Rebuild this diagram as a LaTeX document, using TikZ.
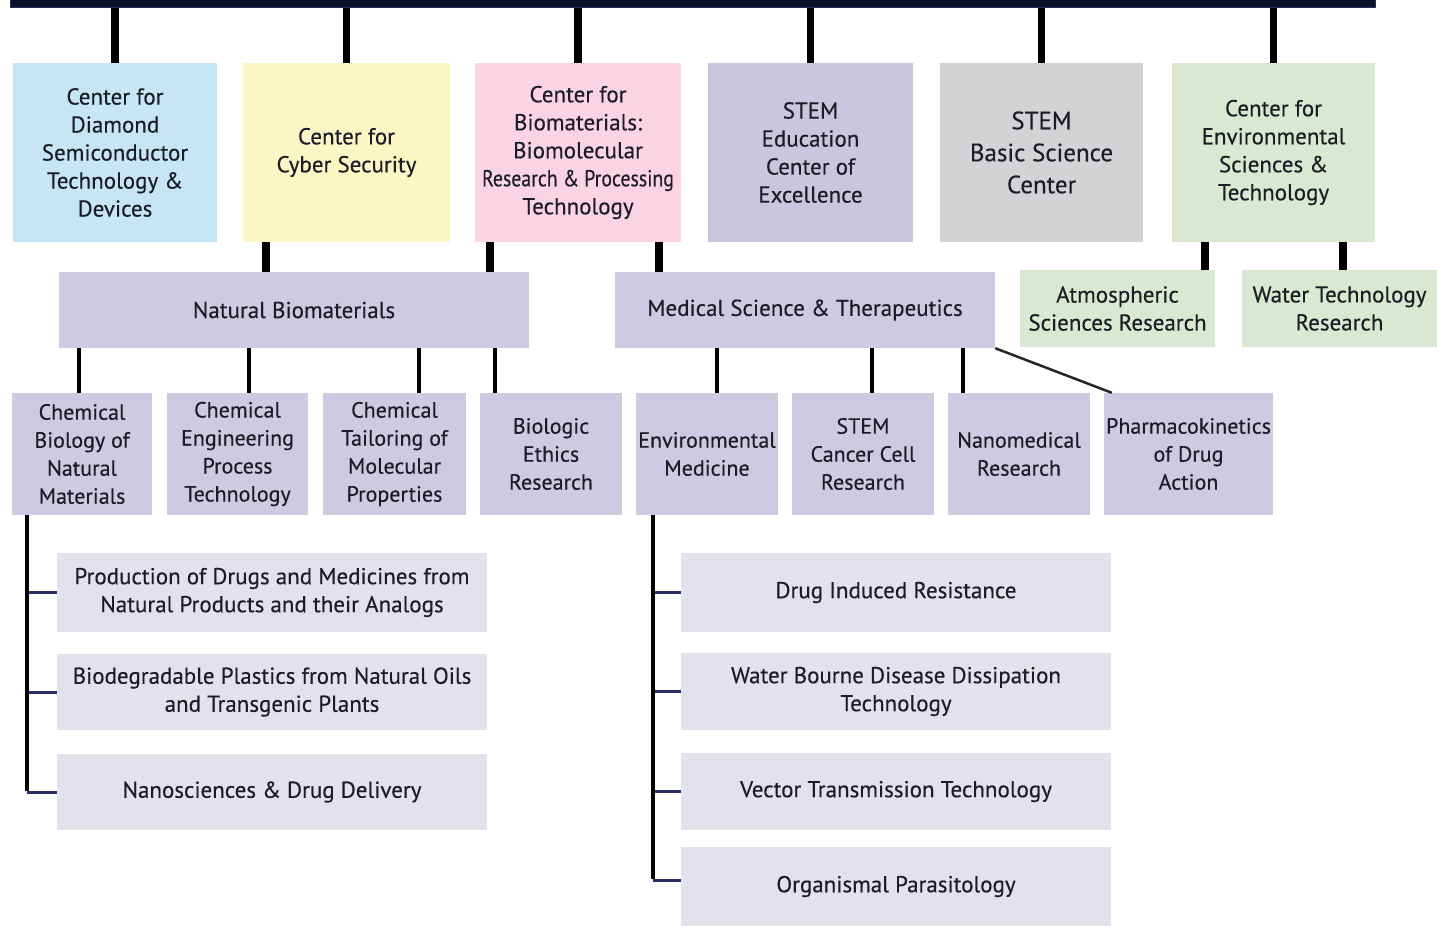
\documentclass[tikz,border=0pt]{standalone}
\usepackage{graphicx}
\usepackage{fontspec}
\setmainfont[FakeBold=0.3]{PT Sans}
\definecolor{cBlue}{RGB}{198,230,246}
\definecolor{cYellow}{RGB}{251,247,196}
\definecolor{cPink}{RGB}{250,212,226}
\definecolor{cLav}{RGB}{200,199,222}
\definecolor{cGray}{RGB}{211,211,213}
\definecolor{cGreen}{RGB}{218,232,210}
\definecolor{cMid}{RGB}{204,203,225}
\definecolor{cLight}{RGB}{226,226,236}
\definecolor{cBar}{RGB}{12,16,40}
\definecolor{cTxt}{RGB}{28,28,38}
\definecolor{cTick}{RGB}{40,46,100}
\tikzset{
  box/.style={rectangle, inner sep=0pt, align=center, text=cTxt,
    font=\fontsize{23}{28}\selectfont},
  bigtxt/.style={font=\fontsize{25}{32}\selectfont},
  rowthree/.style={font=\fontsize{22}{28}\selectfont},
  thickconn/.style={draw=black, line width=7.5pt},
  thinconn/.style={draw=black, line width=4pt},
  bracket/.style={draw=black, line width=3.5pt},
  tick/.style={draw=cTick, line width=3pt}
}
\begin{document}
\begin{tikzpicture}[x=1pt,y=-1pt]
\useasboundingbox (0,0) rectangle (1437,926);
% top bar
\node[fill=cBar, draw=cTick, line width=1pt, minimum width=1365pt, minimum height=8pt, inner sep=0pt] (bar) at (692.5,3.5) {};
% top row
\node[box, fill=cBlue, minimum width=204pt, minimum height=179pt] (c1) at (115,152.5) {Center for\\Diamond\\Semiconductor\\Technology \&\\Devices};
\node[box, fill=cYellow, minimum width=207pt, minimum height=179pt] (c2) at (346.5,152.5) {Center for\\Cyber Security};
\node[box, fill=cPink, minimum width=206pt, minimum height=179pt] (c3) at (578,152.5) {Center for\\Biomaterials:\\Biomolecular\\\scalebox{0.86}[1]{Research \& Processing}\\Technology};
\node[box, fill=cLav, minimum width=205pt, minimum height=179pt] (c4) at (810.5,152.5) {STEM\\Education\\Center of\\Excellence};
\node[box, bigtxt, fill=cGray, minimum width=203pt, minimum height=179pt] (c5) at (1041.5,152.5) {STEM\\Basic Science\\Center};
\node[box, fill=cGreen, minimum width=203pt, minimum height=179pt] (c6) at (1273.5,152.5) {Center for\\Environmental\\Sciences \&\\Technology};
\foreach \n in {c1,c2,c3,c4,c5,c6} \draw[thickconn] (\n.north) -- (\n.north |- bar.south);
% second row
\node[box, fill=cMid, minimum width=470pt, minimum height=76pt] (nb) at (294,310) {Natural Biomaterials};
\node[box, fill=cMid, minimum width=380pt, minimum height=76pt] (ms) at (805,310) {Medical Science \& Therapeutics};
\node[box, fill=cGreen, minimum width=195pt, minimum height=77pt] (at) at (1117.5,308.5) {Atmospheric\\Sciences Research};
\node[box, fill=cGreen, minimum width=195pt, minimum height=77pt] (wt) at (1339.5,308.5) {Water Technology\\Research};
\draw[thickconn] ([xshift=23pt]c2.south west) -- ([xshift=23pt]c2.south west |- nb.north);
\draw[thickconn] ([xshift=15pt]c3.south west) -- ([xshift=15pt]c3.south west |- nb.north);
\draw[thickconn] ([xshift=184pt]c3.south west) -- ([xshift=184pt]c3.south west |- ms.north);
\draw[thickconn] ([xshift=33pt]c6.south west) -- ([xshift=33pt]c6.south west |- at.north);
\draw[thickconn] ([xshift=171pt]c6.south west) -- ([xshift=171pt]c6.south west |- wt.north);
% third row
\node[box, rowthree, fill=cMid, minimum width=140pt, minimum height=122pt] (cb) at (82,454) {Chemical\\Biology of\\Natural\\Materials};
\node[box, rowthree, fill=cMid, minimum width=141pt, minimum height=122pt] (ce) at (237.5,454) {Chemical\\Engineering\\Process\\Technology};
\node[box, rowthree, fill=cMid, minimum width=143pt, minimum height=122pt] (ct) at (394.5,454) {Chemical\\Tailoring of\\Molecular\\Properties};
\node[box, rowthree, fill=cMid, minimum width=142pt, minimum height=122pt] (be) at (551,454) {Biologic\\Ethics\\Research};
\node[box, rowthree, fill=cMid, minimum width=142pt, minimum height=122pt] (em) at (707,454) {Environmental\\Medicine};
\node[box, rowthree, fill=cMid, minimum width=142pt, minimum height=122pt] (sc) at (863,454) {STEM\\Cancer Cell\\Research};
\node[box, rowthree, fill=cMid, minimum width=142pt, minimum height=122pt] (nm) at (1019,454) {Nanomedical\\Research};
\node[box, rowthree, fill=cMid, minimum width=169pt, minimum height=122pt] (pk) at (1188.5,454) {Pharmacokinetics\\of Drug\\Action};
\draw[thinconn] ([xshift=67pt]cb.north west) -- ([xshift=67pt]cb.north west |- nb.south);
\draw[thinconn] ([xshift=82pt]ce.north west) -- ([xshift=82pt]ce.north west |- nb.south);
\draw[thinconn] ([xshift=96pt]ct.north west) -- ([xshift=96pt]ct.north west |- nb.south);
\draw[thinconn] ([xshift=15pt]be.north west) -- ([xshift=15pt]be.north west |- nb.south);
\draw[thinconn] ([xshift=81pt]em.north west) -- ([xshift=81pt]em.north west |- ms.south);
\draw[thinconn] ([xshift=80pt]sc.north west) -- ([xshift=80pt]sc.north west |- ms.south);
\draw[thinconn] ([xshift=15pt]nm.north west) -- ([xshift=15pt]nm.north west |- ms.south);
\draw[draw=black!85, line width=2.5pt] (ms.south east) -- ([xshift=8pt]pk.north west);
% bottom left list
\node[box, fill=cLight, minimum width=430pt, minimum height=79pt] (l1) at (272,592.5) {Production of Drugs and Medicines from\\Natural Products and their Analogs};
\node[box, fill=cLight, minimum width=430pt, minimum height=76pt] (l2) at (272,692) {Biodegradable Plastics from Natural Oils\\and Transgenic Plants};
\node[box, fill=cLight, minimum width=430pt, minimum height=76pt] (l3) at (272,792) {Nanosciences \& Drug Delivery};
\coordinate (lt) at ([xshift=15pt]cb.south west);
\draw[tick] (lt |- l1.west) -- (l1.west);
\draw[tick] (lt |- l2.west) -- (l2.west);
\draw[tick] (lt |- l3.west) -- (l3.west);
\draw[bracket] (lt) -- ([yshift=1.5pt]lt |- l3.west);
% bottom right list
\node[box, fill=cLight, minimum width=430pt, minimum height=79pt] (r1) at (896,592.5) {Drug Induced Resistance};
\node[box, fill=cLight, minimum width=430pt, minimum height=77pt] (r2) at (896,691.5) {Water Bourne Disease Dissipation\\Technology};
\node[box, fill=cLight, minimum width=430pt, minimum height=77pt] (r3) at (896,791.5) {Vector Transmission Technology};
\node[box, fill=cLight, minimum width=430pt, minimum height=79pt] (r4) at (896,886.5) {Organismal Parasitology};
\coordinate (rt) at ([xshift=17pt]em.south west);
\draw[tick] (rt |- r1.west) -- (r1.west);
\draw[tick] (rt |- r2.west) -- (r2.west);
\draw[tick] (rt |- r3.west) -- (r3.west);
\draw[tick] ([yshift=6pt]rt |- r4.west) -- ([yshift=6pt]r4.west);
\draw[bracket] (rt) -- ([yshift=7.5pt]rt |- r4.west);
\end{tikzpicture}
\end{document}
